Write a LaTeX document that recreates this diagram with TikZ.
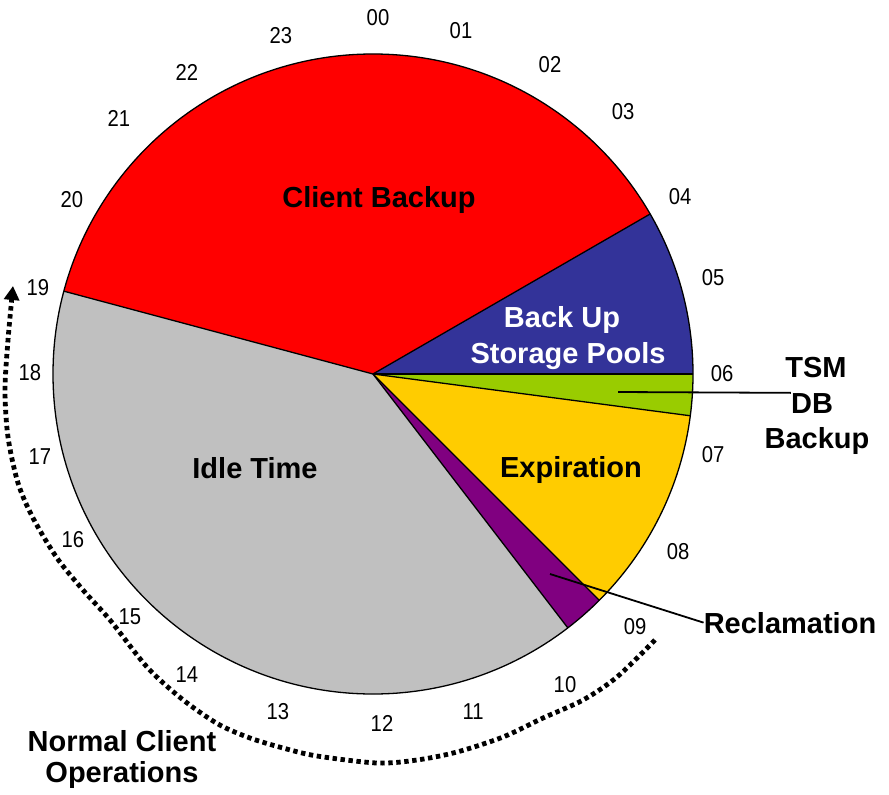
\documentclass[tikz,border=0pt]{standalone}
\usepackage{fontspec}
\setmainfont{Liberation Sans}
\newfontfamily\hourfont[FakeStretch=0.88]{Liberation Sans}
\usetikzlibrary{arrows.meta}
\definecolor{cbred}{HTML}{FF0000}
\definecolor{cbblue}{HTML}{333399}
\definecolor{cbgreen}{HTML}{99CC00}
\definecolor{cbyellow}{HTML}{FFCC00}
\definecolor{cbpurple}{HTML}{800080}
\definecolor{cbgray}{HTML}{C0C0C0}
\tikzset{
  slice/.style={draw=black, line width=1.3pt, line join=round},
  lbl/.style={font=\bfseries\fontsize{29}{36}\selectfont, inner sep=0pt, anchor=base},
  hour/.style={font=\hourfont\fontsize{23}{23}\selectfont, inner sep=0pt},
  leader/.style={draw=black, line width=1.8pt},
  cycleline/.style={draw=black, line width=4.8pt, dash pattern=on 4.4pt off 3.6pt,
    -{Triangle[width=15pt,length=14pt]}}
}
\begin{document}
\begin{tikzpicture}[x=1pt,y=-1pt]
\useasboundingbox[fill=white] (0,0) rectangle (889,795);
\coordinate (c) at (373,374);
% slices (angle = 15*hour - 90, clockwise on the page)
\fill[cbred]    (c) -- ++(195:320) arc[start angle=195, end angle=330, radius=320] -- cycle;
\fill[cbblue]   (c) -- ++(-30:320) arc[start angle=-30, end angle=0, radius=320] -- cycle;
\fill[cbgreen]  (c) -- ++(0:320) arc[start angle=0, end angle=7.5, radius=320] -- cycle;
\fill[cbyellow] (c) -- ++(7.5:320) arc[start angle=7.5, end angle=45, radius=320] -- cycle;
\fill[cbpurple] (c) -- ++(45:320) arc[start angle=45, end angle=52.5, radius=320] -- cycle;
\fill[cbgray]   (c) -- ++(52.5:320) arc[start angle=52.5, end angle=195, radius=320] -- cycle;
\draw[slice] (c) circle[radius=320];
\foreach \a in {195,330,0,7.5,45,52.5} \draw[slice] (c) -- ++(\a:320);
% slice labels
\node[lbl] (cb) at (379,207) {Client Backup};
\node[lbl] (idle) at (255,478) {Idle Time};
\node[lbl] (exp) at (571,477) {Expiration};
\node[lbl, text=white] (bu1) at (562,327) {Back Up};
\node[lbl, text=white] (bu2) at (568,363) {Storage Pools};
\node[lbl] (tsm1) at (816,377) {TSM};
\node[lbl] (tsm2) at (812,413) {DB};
\node[lbl] (tsm3) at (817,448) {Backup};
\node[lbl] (recl) at (790,633) {Reclamation};
\node[lbl] (nc1) at (122,751) {Normal Client};
\node[lbl] (nc2) at (122,782) {Operations};
% leaders
\coordinate (dbtip) at (618,392);
\draw[leader] (dbtip) -- (tsm2.north west);
\coordinate (rctip) at (550,574);
\draw[leader] (rctip) -- (recl.west);
% hour labels
\node[hour] (h00) at (378,18) {00};
\node[hour] (h01) at (461,31) {01};
\node[hour] (h02) at (550,65) {02};
\node[hour] (h03) at (623,112) {03};
\node[hour] (h04) at (680,197) {04};
\node[hour] (h05) at (713,278) {05};
\node[hour] (h06) at (722,374) {06};
\node[hour] (h07) at (713,455) {07};
\node[hour] (h08) at (678,552) {08};
\node[hour] (h09) at (635,627) {09};
\node[hour] (h10) at (565,685) {10};
\node[hour] (h11) at (473,712) {11};
\node[hour] (h12) at (382,723) {12};
\node[hour] (h13) at (278,712) {13};
\node[hour] (h14) at (187,675) {14};
\node[hour] (h15) at (130,617) {15};
\node[hour] (h16) at (73,540) {16};
\node[hour] (h17) at (40,457) {17};
\node[hour] (h18) at (30,373) {18};
\node[hour] (h19) at (38,288) {19};
\node[hour] (h20) at (72,200) {20};
\node[hour] (h21) at (119,118) {21};
\node[hour] (h22) at (187,72) {22};
\node[hour] (h23) at (281,36) {23};
% normal client operations cycle arrow
\coordinate (cycstart) at (655,640);
\coordinate (cycend) at (13,286);
\draw[cycleline] plot[smooth, tension=0.5] coordinates {(cycstart) (617,677) (583,700) (543,718) (503,737) (457,752) (417,760) (377,763) (317,756) (283,748) (250,738) (218,724) (182,699) (147,667) (110,620) (83,590) (57,558) (33,518) (18,483) (8,437) (5,390) (8,340) (cycend)};
\end{tikzpicture}
\end{document}
